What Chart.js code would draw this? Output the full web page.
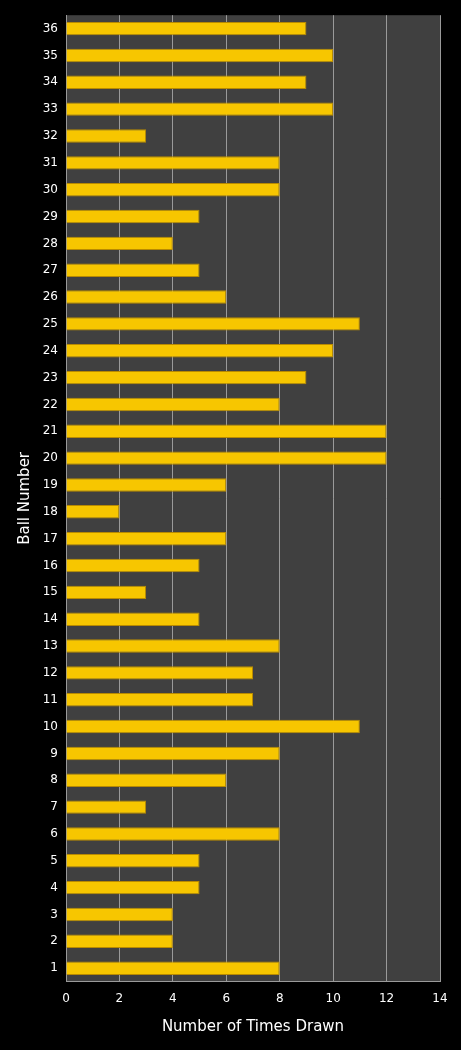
<!DOCTYPE html>
<html>
<head>
<meta charset="utf-8">
<script src="https://cdn.jsdelivr.net/npm/chart.js@4"></script>
<style>
  html, body { margin: 0; padding: 0; background: #000; }
  #wrap { width: 461px; height: 1050px; }
</style>
</head>
<body>
<div id="wrap"><canvas id="ballChart"></canvas></div>
<script>
// Ball numbers, top to bottom as drawn
const balls = ['36','35','34','33','32','31','30','29','28','27','26','25','24','23','22','21','20','19',
               '18','17','16','15','14','13','12','11','10','9','8','7','6','5','4','3','2','1'];
const timesDrawn = [9,10,9,10,3,8,8,5,4,5,6,11,10,9,8,12,12,6,
                    2,6,5,3,5,8,7,7,11,8,6,3,8,5,5,4,4,8];

// plot area fill
const plotBg = {
    id: 'plotBg',
    beforeDraw(chart) {
        const a = chart.chartArea, ctx = chart.ctx;
        ctx.save();
        ctx.fillStyle = '#404040';
        ctx.fillRect(a.left, a.top, a.right - a.left, a.bottom - a.top);
        ctx.restore();
    }
};

const ctx = document.getElementById('ballChart').getContext('2d');
new Chart(ctx, {
    type: 'bar',
    data: {
        labels: balls,
        datasets: [{
            data: timesDrawn,
            backgroundColor: '#F7C600',
            borderColor: '#B88A00',
            borderWidth: 1,
            categoryPercentage: 1.0,
            barPercentage: 0.5
        }]
    },
    options: {
        indexAxis: 'y',
        responsive: true,
        maintainAspectRatio: false,
        animation: false,
        layout: { padding: { top: 15, right: 21, bottom: 10, left: 0 } },
        plugins: { legend: { display: false }, tooltip: { enabled: false } },
        scales: {
            x: {
                min: 0, max: 14,
                ticks: { stepSize: 2, color: '#fff', font: { family: 'DejaVu Sans', size: 12 }, padding: 10 },
                grid: { color: '#9a9a9a', drawTicks: false },
                border: { color: '#9a9a9a' },
                title: { display: true, text: 'Number of Times Drawn', color: '#fff',
                         font: { family: 'DejaVu Sans', size: 15 }, padding: { top: 2 } }
            },
            y: {
                ticks: { color: '#fff', font: { family: 'DejaVu Sans', size: 12 }, padding: 8, autoSkip: false },
                grid: { display: false, drawTicks: false },
                border: { color: '#9a9a9a' },
                title: { display: true, text: 'Ball Number', color: '#fff',
                         font: { family: 'DejaVu Sans', size: 15 }, padding: { top: 16, bottom: 2 } },
                afterFit(scale) { scale.width = 66; }
            }
        }
    },
    plugins: [plotBg]
});
</script>
</body>
</html>
